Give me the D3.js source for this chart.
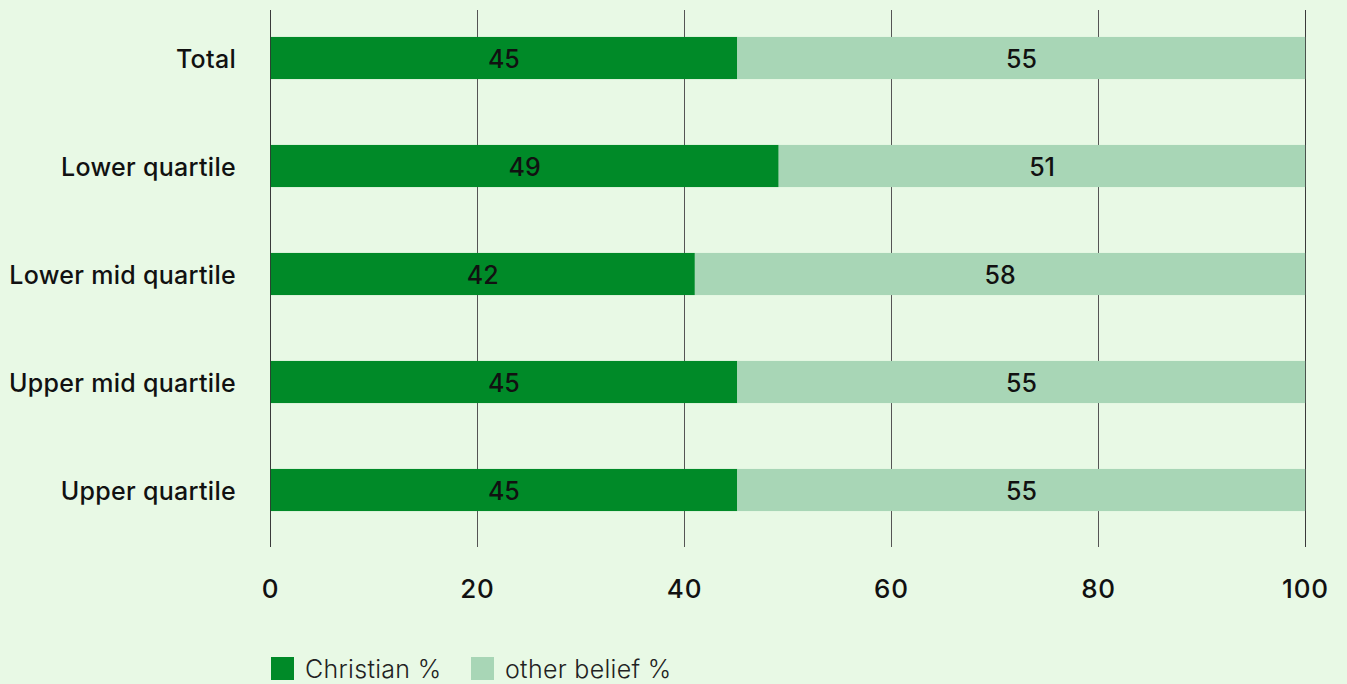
<!DOCTYPE html>
<html><head><meta charset="utf-8">
<script src="https://cdn.jsdelivr.net/npm/d3@7"></script>
<style>
html,body{margin:0;padding:0;background:#e8f9e5;}
svg{display:block;font-family:Inter,"Open Sans",sans-serif;}
</style></head>
<body>
<svg id="chart" width="1347" height="684"></svg>
<script>
const categories = ["Total","Lower quartile","Lower mid quartile","Upper mid quartile","Upper quartile"];
const christian = [45.1, 49.1, 41.0, 45.1, 45.1];
const other = [54.9, 50.9, 59.0, 54.9, 54.9];
const christianLabels = ["45","49","42","45","45"];
const otherLabels = ["55","51","58","55","55"];
const ticks = [0,20,40,60,80,100];
const seriesNames = ["Christian %","other belief %"];
const colors = ["#008a28","#a8d6b6"];

const svg = d3.select("#chart");
svg.append("rect").attr("width",1347).attr("height",684).attr("fill","#e8f9e5");

const x = d3.scaleLinear().domain([0,100]).range([270.5,1305.5]);
const y = d3.scaleBand().domain(categories).range([4,544]).paddingInner(0.61).paddingOuter(0.305);

svg.append("g").selectAll("line").data(ticks).join("line")
  .attr("x1",d=>x(d)).attr("x2",d=>x(d)).attr("y1",10).attr("y2",547)
  .attr("stroke","#555").attr("stroke-width",1);

const rows = categories.map((c,i)=>({c, a:christian[i], b:other[i], la:christianLabels[i], lb:otherLabels[i]}));

const g = svg.append("g");
g.selectAll("rect.a").data(rows).join("rect").attr("class","a")
  .attr("x",x(0)).attr("y",d=>y(d.c)).attr("width",d=>x(d.a)-x(0)).attr("height",y.bandwidth())
  .attr("fill",colors[0]);
g.selectAll("rect.b").data(rows).join("rect").attr("class","b")
  .attr("x",d=>x(d.a)).attr("y",d=>y(d.c)).attr("width",d=>x(d.a+d.b)-x(d.a)).attr("height",y.bandwidth())
  .attr("fill",colors[1]);

svg.append("g").selectAll("line").data([0,100]).join("line")
  .attr("x1",d=>x(d)).attr("x2",d=>x(d)).attr("y1",10).attr("y2",547)
  .attr("stroke","rgba(40,40,40,0.6)").attr("stroke-width",1);

const fs = 25;
g.selectAll("text.la").data(rows).join("text").attr("class","la")
  .attr("x",d=>(x(0)+x(d.a))/2).attr("y",d=>y(d.c)+y.bandwidth()/2+1)
  .attr("text-anchor","middle").attr("dominant-baseline","central")
  .attr("font-size",fs).attr("font-weight",500).attr("fill","#111").text(d=>d.la);
g.selectAll("text.lb").data(rows).join("text").attr("class","lb")
  .attr("x",d=>(x(d.a)+x(d.a+d.b))/2).attr("y",d=>y(d.c)+y.bandwidth()/2+1)
  .attr("text-anchor","middle").attr("dominant-baseline","central")
  .attr("font-size",fs).attr("font-weight",500).attr("fill","#111").text(d=>d.lb);

svg.append("g").selectAll("text").data(categories).join("text")
  .attr("x",236).attr("y",d=>y(d)+y.bandwidth()/2+1)
  .attr("text-anchor","end").attr("dominant-baseline","central")
  .attr("font-size",fs).attr("font-weight",500).attr("letter-spacing",0.3).attr("fill","#111").text(d=>d);

svg.append("g").selectAll("text").data(ticks).join("text")
  .attr("x",d=>x(d)).attr("y",588)
  .attr("text-anchor","middle").attr("dominant-baseline","central")
  .attr("font-size",26).attr("font-weight",500).attr("letter-spacing",0.8).attr("fill","#111").text(d=>d);

const leg = svg.append("g");
const legX = [271, 471];
seriesNames.forEach((n,i)=>{
  leg.append("rect").attr("x",legX[i]).attr("y",657).attr("width",23).attr("height",23).attr("fill",colors[i]);
  leg.append("text").attr("x",legX[i]+34).attr("y",669).attr("dominant-baseline","central")
    .attr("font-size",fs).attr("font-weight",300).attr("letter-spacing",0.3).attr("fill","#222").text(n);
});
</script>
</body></html>
